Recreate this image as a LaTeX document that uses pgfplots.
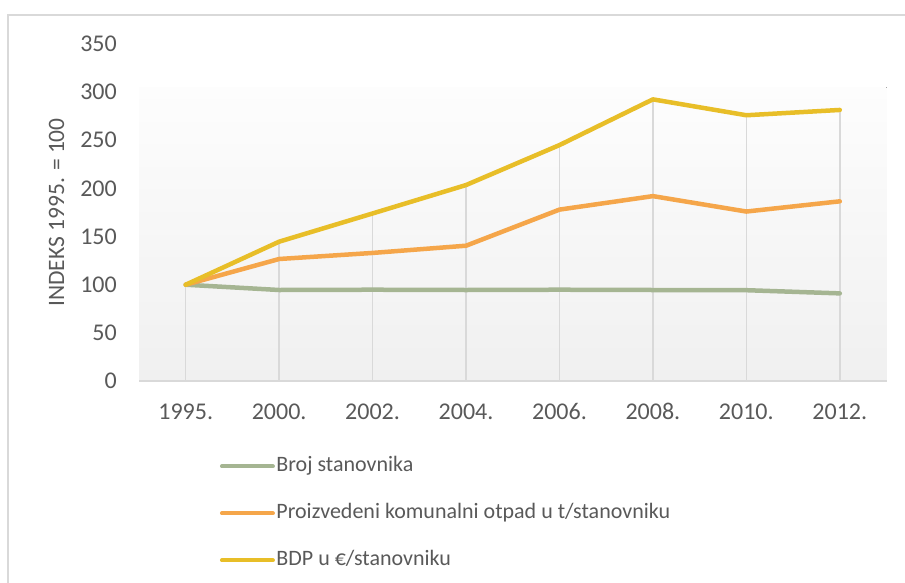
\documentclass[border=0pt]{standalone}
\usepackage{pgfplots}
\pgfplotsset{compat=1.18}
\usepackage{fontspec}
\setmainfont{Carlito}
\definecolor{txt}{RGB}{89,89,89}
\definecolor{grn}{RGB}{165,181,146}
\definecolor{org}{RGB}{245,166,74}
\definecolor{yel}{RGB}{232,190,40}
\definecolor{grd}{RGB}{217,217,217}
\definecolor{bgtop}{RGB}{253,253,253}
\definecolor{bgbot}{RGB}{240,240,240}
\begin{document}
\begin{tikzpicture}[x=1pt,y=1pt]
\draw[grd, line width=1.5pt] (8,0) -- (8,568) -- (905,568);
\begin{axis}[
  set layers,
  at={(139pt,202pt)}, anchor=south west,
  scale only axis, width=747.5pt, height=337pt,
  xmin=-0.5, xmax=7.5, ymin=0, ymax=350,
  xtick={0,...,7},
  xticklabels={1995.,2000.,2002.,2004.,2006.,2008.,2010.,2012.},
  ytick={0,50,...,350},
  major tick length=0pt,
  separate axis lines,
  axis x line*=bottom, axis y line*=left,
  x axis line style={grd, line width=1.5pt, -},
  y axis line style={draw=none},
  tick label style={font=\fontsize{24}{28}\selectfont, text=txt},
  /pgf/number format/assume math mode=true,
  xticklabel style={inner sep=0pt, anchor=north, text height=15.5pt, text depth=0pt},
  xticklabel shift=23pt,
  yticklabel style={inner sep=0pt, anchor=east},
  yticklabel shift=22pt,
  ylabel={INDEKS 1995. = 100},
  every axis y label/.style={at={(axis description cs:-0.1102,0.5)}, rotate=90, anchor=center, font=\fontsize{23.5}{28}\selectfont, text=txt},
  legend style={draw=none, fill=none, at={(axis description cs:0.104,-0.211)}, anchor=north west,
    font=\fontsize{22}{26}\selectfont, text=txt, row sep=23pt,
    nodes={inner sep=1.5pt, text height=16pt, text depth=5pt}},
  legend cell align=left,
  legend image code/.code={\draw[#1, line width=4pt] (0pt,0pt) -- (51pt,0pt);},
]
\begin{pgfonlayer}{axis background}
\fill[top color=bgtop, bottom color=bgbot] (axis cs:-0.5,0) rectangle (axis cs:7.5,305);
\end{pgfonlayer}
\addplot[ycomb, grd, line width=1.5pt, forget plot] coordinates {(0,100) (1,144.7) (2,174) (3,203.5) (4,245) (5,292.5) (6,276) (7,281.5)};
\addplot[grn, line width=4.5pt, line join=round, line cap=round] coordinates {(0,100) (1,94.5) (2,94.8) (3,94.5) (4,94.8) (5,94.5) (6,94.3) (7,91)};
\addlegendentry{Broj stanovnika}
\addplot[org, line width=4.5pt, line join=round, line cap=round] coordinates {(0,100) (1,126.7) (2,133) (3,140.5) (4,178) (5,192) (6,176) (7,186.6)};
\addlegendentry{Proizvedeni komunalni otpad u t/stanovniku}
\addplot[yel, line width=4.5pt, line join=round, line cap=round] coordinates {(0,100) (1,144.7) (2,174) (3,203.5) (4,245) (5,292.5) (6,276) (7,281.5)};
\addlegendentry{BDP u €/stanovniku}
\end{axis}
\pgfresetboundingbox
\path[use as bounding box] (0,0) rectangle (905,583);
\end{tikzpicture}
\end{document}
